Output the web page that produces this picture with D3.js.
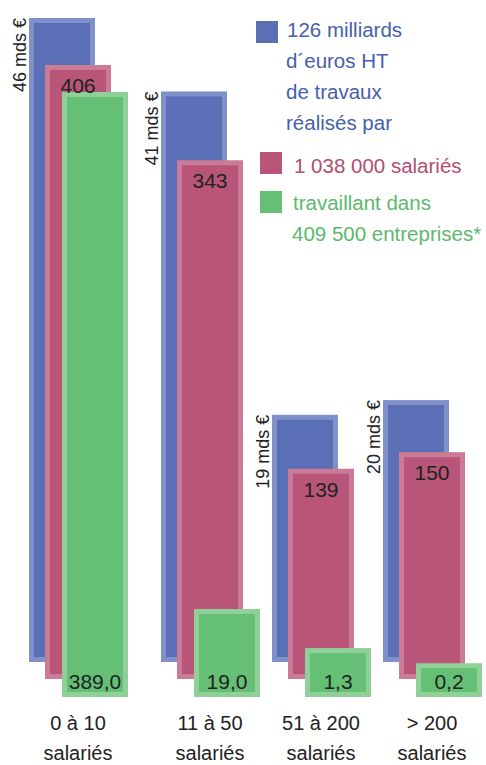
<!DOCTYPE html>
<html>
<head>
<meta charset="utf-8">
<script src="https://cdn.jsdelivr.net/npm/d3@7"></script>
<style>
  body { margin: 0; background: #fff; }
  svg { display: block; font-family: "Liberation Sans", Arial, sans-serif; }
</style>
</head>
<body>
<div id="chart"></div>
<script>
// data
const categories = ["0 à 10", "11 à 50", "51 à 200", "> 200"]
const categoryUnit = "salariés"
const travaux = [46, 41, 19, 20]            // milliards d'euros HT
const travauxLabels = ["46 mds €", "41 mds €", "19 mds €", "20 mds €"]
const salaries = [406, 343, 139, 150]       // milliers
const entreprises = [389.0, 19.0, 1.3, 0.2] // milliers
const legendLines = [
  ["126 milliards", "d´euros HT", "de travaux", "réalisés par"],
  ["1 038 000 salariés"],
  ["travaillant dans", "409 500 entreprises*"]
]

const colors = [
  {fill: '#5a6fb5', edge: '#8090c9', text: '#4660ab'},
  {fill: '#b85578', edge: '#cb7b95', text: '#b34d72'},
  {fill: '#65bf74', edge: '#8fd098', text: '#5cb96b'}
]

const width = 486, height = 765
const barW = 66, edgeW = 5
// each series is shifted right and down a little (3d-ish stacking)
const shiftX = [0, 16, 33]
const baseY = [662, 679, 697]

const svg = d3.select('#chart').append('svg')
  .attr('width', width).attr('height', height)

// group positions
const x = d3.scaleOrdinal().domain(categories).range([29, 161, 272, 383])

// the chart is not drawn to scale, every series has its own
const yBlue = d3.scaleLinear().domain([0, 46]).range([694, 18])
const yPink = d3.scaleLinear().domain([0, 406]).range([679, 65])
const yGreen = d3.scaleLinear().domain([0, 2, 20, 400]).range([666, 638.4, 607.3, 76.6])

const series = [
  {values: travaux, y: yBlue},
  {values: salaries, y: yPink},
  {values: entreprises, y: yGreen}
]

const fmt = v => d3.format('.1f')(v).replace('.', ',')

series.forEach(function(s, si) {
  const c = colors[si]
  svg.selectAll('.bar' + si)
    .data(s.values)
    .enter()
    .append('rect')
      .attr('class', 'bar' + si)
      .attr('x', (d, i) => x(categories[i]) + shiftX[si] + edgeW / 2)
      .attr('y', d => s.y(d) + edgeW / 2)
      .attr('width', barW - edgeW)
      .attr('height', d => baseY[si] - s.y(d) - edgeW)
      .attr('fill', c.fill)
      .attr('stroke', c.edge)
      .attr('stroke-width', edgeW)
})

// rotated labels left of the blue bars
svg.selectAll('.lblBlue')
  .data(travaux)
  .enter()
  .append('text')
    .attr('transform', (d, i) => `translate(${x(categories[i]) - 3},${yBlue(d)}) rotate(-90)`)
    .attr('text-anchor', 'end')
    .style('font-size', '18px')
    .attr('fill', '#222')
    .text((d, i) => travauxLabels[i])

// values on pink bars
svg.selectAll('.lblPink')
  .data(salaries)
  .enter()
  .append('text')
    .attr('x', (d, i) => x(categories[i]) + shiftX[1] + barW / 2)
    .attr('y', d => yPink(d) + 28)
    .attr('text-anchor', 'middle')
    .style('font-size', '21px')
    .attr('fill', '#222')
    .text(d => d)

// values on green bars
svg.selectAll('.lblGreen')
  .data(entreprises)
  .enter()
  .append('text')
    .attr('x', (d, i) => x(categories[i]) + shiftX[2] + barW / 2)
    .attr('y', baseY[2] - 8)
    .attr('text-anchor', 'middle')
    .style('font-size', '21px')
    .attr('fill', '#222')
    .text(d => fmt(d))

// category labels
const cat = svg.selectAll('.cat')
  .data(categories)
  .enter()
  .append('text')
    .attr('text-anchor', 'middle')
    .style('font-size', '20px')
    .attr('fill', '#222')
cat.append('tspan')
  .attr('x', d => x(d) + shiftX[1] + barW / 2)
  .attr('y', 730)
  .text(d => d)
cat.append('tspan')
  .attr('x', d => x(d) + shiftX[1] + barW / 2)
  .attr('y', 760)
  .text(categoryUnit)

// legend
const legendPos = [
  {sx: 256, sy: 21, tx: 287, ty: 37},
  {sx: 260, sy: 152, tx: 294, ty: 173},
  {sx: 260, sy: 191, tx: 293, ty: 210}
]
legendLines.forEach(function(lines, li) {
  const p = legendPos[li]
  svg.append('rect')
    .attr('x', p.sx).attr('y', p.sy)
    .attr('width', 22).attr('height', 22)
    .attr('fill', colors[li].fill)
  const t = svg.append('text')
    .style('font-size', '20.5px')
    .attr('fill', colors[li].text)
  t.selectAll('tspan')
    .data(lines)
    .enter()
    .append('tspan')
      .attr('x', (d, i) => i === 0 ? p.tx : p.tx - 1)
      .attr('y', (d, i) => p.ty + i * 31)
      .text(d => d)
})
</script>
</body>
</html>
